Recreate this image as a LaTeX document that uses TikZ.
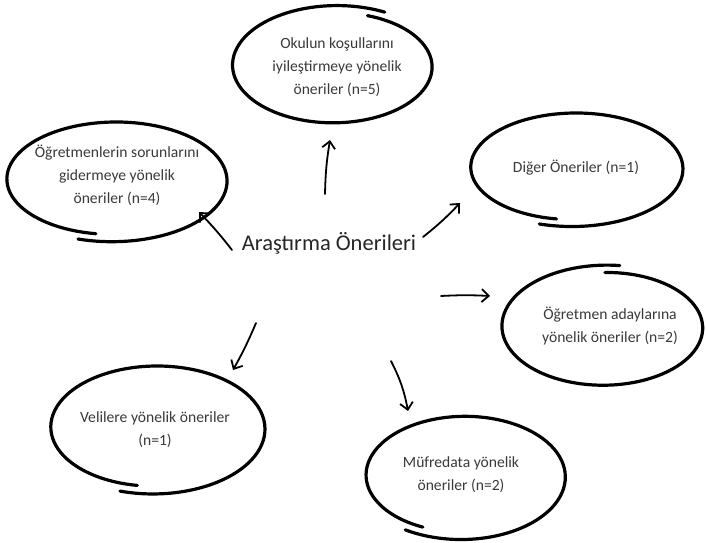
\documentclass[tikz,border=0pt]{standalone}
\usepackage{fontspec}
\setmainfont{Carlito}
\usetikzlibrary{arrows.meta,shapes.geometric}
\definecolor{txtgray}{HTML}{3A3A3A}
\tikzset{
  brush/.style={line width=3.2pt, line cap=round, line join=round, black},
  arr/.style={line width=1.8pt, line cap=round, -{Straight Barb[length=7pt,width=13pt,line width=1.8pt]}},
  small/.style={font=\fontsize{15.6}{23}\selectfont, text=txtgray, align=center, inner sep=0pt},
  big/.style={font=\fontsize{22.5}{26}\selectfont, text=black!85, inner sep=0pt},
}
\newcommand{\handell}[5]{%
  \pgfmathsetmacro{\hEnd}{#5+368}%
  \draw[brush] plot[smooth, domain=#5:\hEnd, samples=100, variable=\t]
    ({#1+#3*(0.95+0.11*(\t-(#5))/368)*cos(\t)},
     {#2+#4*(0.94+0.13*(\t-(#5))/368)*sin(\t)});
}
\begin{document}
\begin{tikzpicture}[x=1pt,y=-1pt]
\useasboundingbox (0,0) rectangle (706,542);
\fill[white] (0,0) rectangle (706,542);

% center
\node[big] (c) at (329,243) {Araştırma Önerileri};

% outer nodes
\node[small] (n1) at (337,67) {Okulun koşullarını\\iyileştirmeye yönelik\\öneriler (n=5)};
\node[small] (n2) at (117,175) {Öğretmenlerin sorunlarını\\gidermeye yönelik\\öneriler (n=4)};
\node[small] (n3) at (576,168) {Diğer Öneriler (n=1)};
\node[small] (n4) at (610,326) {Öğretmen adaylarına\\yönelik öneriler (n=2)};
\node[small] (n5) at (155,430) {Velilere yönelik öneriler\\(n=1)};
\node[small] (n6) at (461,475) {Müfredata yönelik\\öneriler (n=2)};

% hand-drawn ellipses
\handell{335}{66}{100}{57}{-70}
\handell{114}{180}{110}{58}{100}
\handell{574}{168}{106}{55}{100}
\handell{605}{327}{100}{58}{-90}
\handell{155}{428}{107}{62}{100}
\handell{463}{476}{100}{60}{115}

% arrow end points
\coordinate (a1s) at (325,194); \coordinate (a1e) at (330,140);
\coordinate (a2s) at (232,250); \coordinate (a2e) at (199,212);
\coordinate (a3s) at (423,237); \coordinate (a3e) at (460,203);
\coordinate (a4s) at (441,296); \coordinate (a4e) at (490,296);
\coordinate (a5s) at (256,323); \coordinate (a5e) at (233,370);
\coordinate (a6s) at (391,361); \coordinate (a6e) at (408,411);

\draw[arr] (a1s) to[bend left=4] (a1e);
\draw[arr] (a2s) to[bend right=3] (a2e);
\draw[arr] (a3s) to[bend right=4] (a3e);
\draw[arr] (a4s) to[bend left=3] (a4e);
\draw[arr] (a5s) to[bend left=3] (a5e);
\draw[arr] (a6s) to[bend left=8] (a6e);
\end{tikzpicture}
\end{document}
